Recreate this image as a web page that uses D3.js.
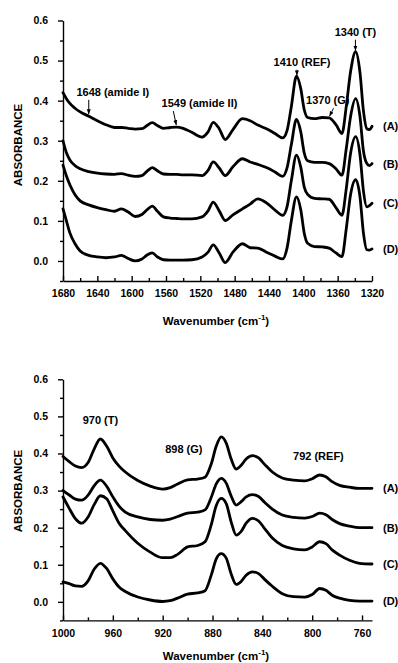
<!DOCTYPE html>
<html>
<head>
<meta charset="utf-8">
<script src="https://cdn.jsdelivr.net/npm/d3@7"></script>
<style>
  html, body { margin: 0; padding: 0; background: #fff; }
  svg { display: block; font-family: "Liberation Sans", Arial, sans-serif; font-weight: bold; }
</style>
</head>
<body>
<div id="chart"></div>
<script>
// ---- top panel: 1680-1320 cm-1 ----
const topWn = [1680, 1676, 1672, 1666, 1660, 1650, 1640, 1630, 1620, 1612, 1604, 1596, 1588, 1582, 1576, 1570, 1563, 1555, 1548, 1540,
  1530, 1518, 1511, 1505, 1498, 1491, 1482, 1471, 1462, 1453, 1443, 1433, 1424, 1419, 1414, 1408, 1403, 1399, 1395, 1387,
  1378, 1370, 1362, 1355, 1350, 1345, 1339, 1334, 1330, 1326, 1323, 1320];
const topA = [0.420, 0.405, 0.393, 0.381, 0.372, 0.361, 0.350, 0.340, 0.333, 0.333, 0.331, 0.329, 0.330, 0.338, 0.345, 0.338, 0.331, 0.333, 0.334, 0.331,
  0.321, 0.309, 0.322, 0.346, 0.330, 0.303, 0.328, 0.355, 0.350, 0.339, 0.330, 0.318, 0.307, 0.325, 0.385, 0.461, 0.430, 0.378, 0.358, 0.355,
  0.358, 0.357, 0.340, 0.318, 0.385, 0.472, 0.522, 0.470, 0.375, 0.330, 0.328, 0.336];
const topB = [0.300, 0.270, 0.252, 0.238, 0.230, 0.223, 0.219, 0.217, 0.216, 0.218, 0.214, 0.211, 0.213, 0.224, 0.233, 0.225, 0.217, 0.216, 0.216, 0.215,
  0.215, 0.213, 0.226, 0.247, 0.232, 0.213, 0.235, 0.255, 0.247, 0.241, 0.233, 0.222, 0.211, 0.232, 0.290, 0.353, 0.322, 0.270, 0.250, 0.246,
  0.246, 0.243, 0.230, 0.214, 0.280, 0.360, 0.405, 0.360, 0.275, 0.243, 0.238, 0.243];
const topC = [0.239, 0.212, 0.190, 0.165, 0.150, 0.140, 0.133, 0.128, 0.124, 0.130, 0.122, 0.111, 0.116, 0.128, 0.137, 0.124, 0.110, 0.107, 0.106, 0.105,
  0.105, 0.110, 0.125, 0.147, 0.125, 0.101, 0.115, 0.130, 0.142, 0.155, 0.145, 0.127, 0.114, 0.135, 0.200, 0.264, 0.234, 0.185, 0.166, 0.156,
  0.155, 0.154, 0.133, 0.114, 0.180, 0.268, 0.310, 0.265, 0.175, 0.135, 0.138, 0.144];
const topD = [0.130, 0.100, 0.070, 0.043, 0.025, 0.014, 0.010, 0.008, 0.010, 0.014, 0.006, 0.000, 0.005, 0.015, 0.020, 0.010, 0.003, 0.002, 0.002, 0.002,
  0.003, 0.010, 0.022, 0.040, 0.020, -0.004, 0.022, 0.043, 0.033, 0.032, 0.022, 0.012, 0.005, 0.032, 0.100, 0.160, 0.128, 0.070, 0.044, 0.036,
  0.035, 0.032, 0.020, 0.011, 0.080, 0.165, 0.203, 0.160, 0.070, 0.028, 0.027, 0.030];
const topTicks = [1680, 1640, 1600, 1560, 1520, 1480, 1440, 1400, 1360, 1320];
const topMinor = [1660, 1620, 1580, 1540, 1500, 1460, 1420, 1380, 1340];

// annotations (text centre in data units, arrow tip wavenumber on trace A)
const topNotes = ['1648 (amide I)', '1549 (amide II)', '1410 (REF)', '1370 (G)', '1340 (T)'];
const topNoteWn = [1622, 1521, 1401.5, 1371.5, 1339.3];
const topNoteAbs = [0.422, 0.394, 0.497, 0.401, 0.572];
const topArrowWn = [1650, 1548, 1407.5, 1369.5, 1339.3];

// ---- bottom panel: 1000-750 cm-1 ----
const bottomWn = [1000, 995, 990, 985, 980, 975, 970, 965, 960, 955, 950, 940, 930, 920, 914, 908, 900, 892, 886, 881,
  877, 873, 869, 865, 861, 857, 853, 848, 843, 838, 832, 824, 815, 806, 800, 794, 789, 784, 778, 770, 762, 752];
const bottomA = [0.392, 0.378, 0.366, 0.362, 0.375, 0.412, 0.439, 0.420, 0.388, 0.366, 0.350, 0.327, 0.312, 0.304, 0.308, 0.318, 0.329, 0.331, 0.336, 0.372,
  0.420, 0.445, 0.428, 0.385, 0.358, 0.368, 0.385, 0.394, 0.388, 0.370, 0.350, 0.334, 0.328, 0.326, 0.332, 0.342, 0.337, 0.324, 0.314, 0.309, 0.306, 0.306];
const bottomB = [0.300, 0.288, 0.277, 0.274, 0.287, 0.313, 0.328, 0.312, 0.283, 0.258, 0.242, 0.229, 0.222, 0.220, 0.223, 0.230, 0.239, 0.242, 0.248, 0.282,
  0.318, 0.333, 0.320, 0.285, 0.261, 0.270, 0.283, 0.289, 0.284, 0.268, 0.250, 0.234, 0.228, 0.226, 0.230, 0.239, 0.235, 0.222, 0.211, 0.204, 0.200, 0.200];
const bottomC = [0.283, 0.252, 0.224, 0.212, 0.228, 0.262, 0.286, 0.278, 0.245, 0.212, 0.192, 0.158, 0.134, 0.119, 0.119, 0.128, 0.148, 0.152, 0.162, 0.208,
  0.260, 0.279, 0.265, 0.215, 0.180, 0.190, 0.212, 0.225, 0.218, 0.197, 0.172, 0.152, 0.143, 0.140, 0.148, 0.162, 0.157, 0.140, 0.126, 0.112, 0.104, 0.102];
const bottomD = [0.054, 0.049, 0.043, 0.042, 0.056, 0.088, 0.104, 0.090, 0.062, 0.040, 0.028, 0.013, 0.005, 0.001, 0.003, 0.010, 0.021, 0.024, 0.030, 0.072,
  0.116, 0.130, 0.118, 0.075, 0.047, 0.055, 0.072, 0.081, 0.076, 0.060, 0.042, 0.022, 0.014, 0.013, 0.020, 0.036, 0.031, 0.018, 0.010, 0.004, 0.002, 0.002];
const bottomTicks = [1000, 960, 920, 880, 840, 800, 760];
const bottomMinor = [980, 940, 900, 860, 820, 780];

const bottomNotes = ['970 (T)', '898 (G)', '792 (REF)'];
const bottomNoteWn = [970, 903, 795];
const bottomNoteAbs = [0.49, 0.411, 0.393];

const traceNames = ['(A)', '(B)', '(C)', '(D)'];
const yTicks = [0.0, 0.1, 0.2, 0.3, 0.4, 0.5, 0.6];
const yMinor = [-0.05, 0.05, 0.15, 0.25, 0.35, 0.45, 0.55];

const W = 398, H = 663;
const svg = d3.select('#chart').append('svg').attr('width', W).attr('height', H);

svg.append('defs').append('marker')
  .attr('id', 'arrow')
  .attr('viewBox', '0 0 10 10')
  .attr('refX', 10).attr('refY', 5)
  .attr('markerWidth', 5).attr('markerHeight', 5)
  .attr('orient', 'auto')
  .append('path').attr('d', 'M0,1L10,5L0,9Z').attr('fill', '#000');

function valueAt(wn, vals, target) {
  // linear lookup on a descending wavenumber grid
  for (let i = 0; i < wn.length - 1; i++) {
    if (target <= wn[i] && target >= wn[i + 1]) {
      const t = (wn[i] - target) / (wn[i] - wn[i + 1]);
      return vals[i] + t * (vals[i + 1] - vals[i]);
    }
  }
  return vals[vals.length - 1];
}

function drawPanel(cfg) {
  const x = d3.scaleLinear().domain(cfg.xDomain).range([63, 372]);
  const y = d3.scaleLinear().domain([-0.05, 0.6]).range([cfg.bottom, cfg.top]);
  const g = svg.append('g');

  // y axis
  g.append('g').attr('transform', 'translate(63,0)')
    .call(d3.axisLeft(y).tickValues(yTicks).tickFormat(d3.format('.1f')).tickSize(5).tickPadding(10).tickSizeOuter(0));
  g.append('g').attr('transform', 'translate(63,0)')
    .call(d3.axisLeft(y).tickValues(yMinor).tickFormat('').tickSize(3).tickSizeOuter(0))
    .select('.domain').remove();

  // x axis, ticks pointing inward
  g.append('g').attr('transform', `translate(0,${cfg.bottom})`)
    .call(d3.axisBottom(x).tickValues(cfg.ticks).tickFormat(d3.format('d')).tickSize(-5).tickPadding(9).tickSizeOuter(0));
  g.append('g').attr('transform', `translate(0,${cfg.bottom})`)
    .call(d3.axisBottom(x).tickValues(cfg.minor).tickFormat('').tickSize(-3).tickSizeOuter(0))
    .select('.domain').remove();

  g.selectAll('.domain, .tick line').attr('stroke', '#000').attr('stroke-width', 1.4);
  g.selectAll('.tick text').attr('font-size', 10.5).attr('font-weight', 'bold').attr('fill', '#000')
    .attr('font-family', '"Liberation Sans", Arial, sans-serif');

  // axis titles
  g.append('text')
    .attr('transform', `translate(22,${cfg.ylabelY}) rotate(-90)`)
    .attr('text-anchor', 'middle')
    .attr('font-size', 11.5)
    .text('ABSORBANCE');

  const xt = g.append('text')
    .attr('x', 216)
    .attr('y', cfg.bottom + cfg.titleGap)
    .attr('text-anchor', 'middle')
    .attr('font-size', 11.5);
  xt.append('tspan').text('Wavenumber (cm');
  xt.append('tspan').attr('dy', -5).attr('font-size', 8).text('-1');
  xt.append('tspan').attr('dy', 5).text(')');

  // annotations (text drawn before the curves so lines sit on top)
  g.selectAll('.note').data(cfg.notes).join('text')
    .attr('class', 'note')
    .attr('x', (d, i) => x(cfg.noteWn[i]))
    .attr('y', (d, i) => y(cfg.noteAbs[i]))
    .attr('dy', '0.36em')
    .attr('text-anchor', 'middle')
    .attr('font-size', 11)
    .text((d) => d);

  if (cfg.arrowWn) {
    cfg.arrowWn.forEach((wn, i) => {
      const tipX = x(wn);
      const tipY = y(valueAt(cfg.wn, cfg.series[0], wn)) - 2;
      const startY = y(cfg.noteAbs[i]) + 8;
      const slant = cfg.arrowSlant[i];
      g.append('line')
        .attr('x1', tipX + slant).attr('y1', startY)
        .attr('x2', tipX).attr('y2', tipY)
        .attr('stroke', '#000').attr('stroke-width', 1)
        .attr('marker-end', 'url(#arrow)');
    });
  }

  // spectra
  const line = d3.line()
    .x((d) => x(d[0]))
    .y((d) => y(d[1]))
    .curve(d3.curveMonotoneX);

  cfg.series.forEach((vals, i) => {
    const pts = cfg.wn.map((w, j) => [w, vals[j]]);
    g.append('path')
      .datum(pts)
      .attr('d', line)
      .attr('fill', 'none')
      .attr('stroke', '#000')
      .attr('stroke-width', 2.8)
      .attr('stroke-linejoin', 'round')
      .attr('stroke-linecap', 'round');

    g.append('text')
      .attr('x', 383)
      .attr('y', y(vals[vals.length - 1]))
      .attr('dy', '0.36em')
      .attr('font-size', 11)
      .text(traceNames[i]);
  });
}

drawPanel({
  xDomain: [1680, 1320],
  top: 20.5, bottom: 281, ylabelY: 145, titleGap: 44,
  ticks: topTicks, minor: topMinor,
  wn: topWn, series: [topA, topB, topC, topD],
  notes: topNotes, noteWn: topNoteWn, noteAbs: topNoteAbs,
  arrowWn: topArrowWn, arrowSlant: [0, -3, 0, 4, 0],
});

drawPanel({
  xDomain: [1000, 752],
  top: 379.3, bottom: 620.4, ylabelY: 491, titleGap: 39.5,
  ticks: bottomTicks, minor: bottomMinor,
  wn: bottomWn, series: [bottomA, bottomB, bottomC, bottomD],
  notes: bottomNotes, noteWn: bottomNoteWn, noteAbs: bottomNoteAbs,
});
</script>
</body>
</html>
